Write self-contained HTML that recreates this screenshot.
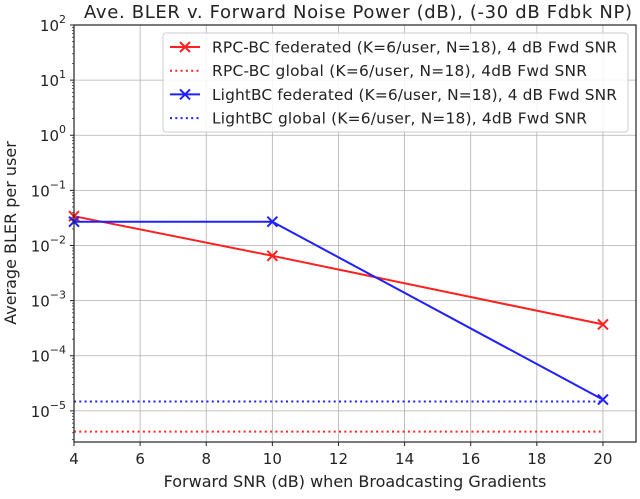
<!DOCTYPE html>
<html><head><meta charset="utf-8"><style>
body{margin:0;background:#fff}
svg text{font-family:"DejaVu Sans","Liberation Sans",sans-serif;fill:#222}
</style></head><body>
<svg id="chart" width="640" height="494" xmlns="http://www.w3.org/2000/svg"></svg>
<script>
const xVals=[4,10,20];
const rpcFed=[0.034,0.0065,0.00037];
const lightFed=[0.027,0.027,0.000016];
const rpcGlobal=[0.0000042,0.0000042];
const lightGlobal=[0.0000148,0.0000148];
const globalX=[4,20];
const xTicks=[4,6,8,10,12,14,16,18,20];
const yTickExp=[2,1,0,-1,-2,-3,-4,-5];
const legendLabels=["RPC-BC federated (K=6/user, N=18), 4 dB Fwd SNR","RPC-BC global (K=6/user, N=18), 4dB Fwd SNR","LightBC federated (K=6/user, N=18), 4 dB Fwd SNR","LightBC global (K=6/user, N=18), 4dB Fwd SNR"];

const L=74,R=636,T=25,B=442,xmin=4,xmax=21,ymaxE=2,yminE=-5.565;
const sx=v=>L+(v-xmin)/(xmax-xmin)*(R-L);
const sy=v=>T+(ymaxE-Math.log10(v))/(ymaxE-yminE)*(B-T);
const svg=document.getElementById('chart');
const NS='http://www.w3.org/2000/svg';
function mk(tag,attrs,parent){const e=document.createElementNS(NS,tag);for(const k in attrs)e.setAttribute(k,attrs[k]);(parent||svg).appendChild(e);return e;}

xTicks.forEach(t=>{
  const g=mk('line',{x1:sx(t),x2:sx(t),y1:T,y2:B,stroke:'#b0b0b0','stroke-width':0.8});
  
  
  mk('line',{x1:sx(t),x2:sx(t),y1:B,y2:B+4,stroke:'#222'});
  const tx=mk('text',{x:sx(t),y:B+22,'text-anchor':'middle','font-size':15});
  tx.textContent=t;
  
  
});
yTickExp.forEach(e=>{
  const y=sy(Math.pow(10,e));
  const g=mk('line',{x1:L,x2:R,y1:y,y2:y,stroke:'#b0b0b0','stroke-width':0.8});
  
  
  mk('line',{x1:L-4,x2:L,y1:y,y2:y,stroke:'#222'});
  const tx=mk('text',{x:L-8,y:y+6,'text-anchor':'end','font-size':15});
  tx.innerHTML='10<tspan dy="-8" font-size="11">'+(e<0?'\u2212'+(-e):e)+'</tspan>';
  
  
});
for(let e=-6;e<2;e++){for(let m=2;m<10;m++){const v=m*Math.pow(10,e);const y=sy(v);if(y<T||y>B)continue;mk('line',{x1:L-2,x2:L,y1:y,y2:y,stroke:'#222','stroke-width':0.7});}}

function series(xs,ys,color,dash,marker,name){
  const pts=xs.map((x,i)=>sx(x)+','+sy(ys[i])).join(' ');
  const p=mk('polyline',{points:pts,fill:'none',stroke:color,'stroke-width':2,'stroke-dasharray':dash?'2,3.3':'none'});
  
  
  if(marker)xs.forEach((x,i)=>{const cx=sx(x),cy=sy(ys[i]);
    const m=mk('path',{d:`M${cx-5},${cy-5}L${cx+5},${cy+5}M${cx-5},${cy+5}L${cx+5},${cy-5}`,stroke:color,'stroke-width':2});
    
    });
}
series(xVals,rpcFed,'#ff2020',false,true,'rpc-bc-federated-line');
series(globalX,rpcGlobal,'#ff2020',true,false,'rpc-bc-global-line');
series(xVals,lightFed,'#2020ff',false,true,'lightbc-federated-line');
series(globalX,lightGlobal,'#2020ff',true,false,'lightbc-global-line');

const fr=mk('rect',{x:L,y:T,width:R-L,height:B-T,fill:'none',stroke:'#222','stroke-width':1.2});



const lg=mk('rect',{x:163,y:33,width:465,height:99,rx:3,fill:'#fff','fill-opacity':0.85,stroke:'#ccc'});


const lcol=['#ff2020','#ff2020','#2020ff','#2020ff'];
legendLabels.forEach((lab,i)=>{
  const y=47+i*23.7;
  const l=mk('line',{x1:170,x2:200,y1:y,y2:y,stroke:lcol[i],'stroke-width':2,'stroke-dasharray':i%2?'2,3.3':'none'});
  
  
  if(i%2==0)mk('path',{d:`M180,${y-5}L190,${y+5}M180,${y+5}L190,${y-5}`,stroke:lcol[i],'stroke-width':2});
  const t=mk('text',{x:212,y:y+5.5,'font-size':15.4,textLength:i%2?375:405});
  t.textContent=lab;
  
  
});

const title=mk('text',{x:358,y:18,'text-anchor':'middle','font-size':18,textLength:548});
title.textContent='Ave. BLER v. Forward Noise Power (dB), (-30 dB Fdbk NP)';


const xl=mk('text',{x:355,y:487,'text-anchor':'middle','font-size':16});
xl.textContent='Forward SNR (dB) when Broadcasting Gradients';


const yl=mk('text',{x:0,y:0,'text-anchor':'middle','font-size':16,transform:'translate(16,233) rotate(-90)'});
yl.textContent='Average BLER per user';


</script>
</body></html>
